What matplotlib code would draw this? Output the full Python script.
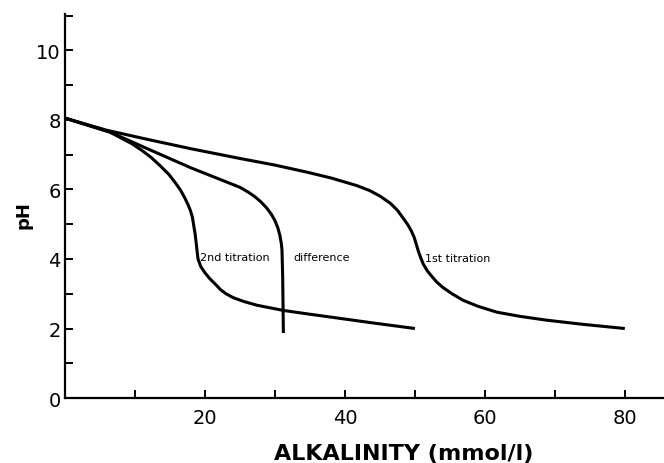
import numpy as np
import matplotlib
matplotlib.use('Agg')
import matplotlib.pyplot as plt

# values
first_x = [0, 6, 12, 18, 25, 30, 34.5, 38, 41.7, 43.5, 45, 46.5, 47.5, 48.3, 49.0, 49.5, 49.9,
           50.2, 50.5, 50.8, 51.2, 51.8, 52.5, 53.1, 54.0, 55.3, 56.9, 59, 61.7, 65, 68.8, 74, 80]
first_ph = [8.05, 7.7, 7.43, 7.17, 6.89, 6.7, 6.5, 6.33, 6.11, 5.97, 5.81, 5.6, 5.4, 5.18, 4.98, 4.8, 4.62,
            4.42, 4.22, 4.05, 3.85, 3.65, 3.48, 3.34, 3.18, 3.0, 2.81, 2.64, 2.47, 2.35, 2.24, 2.12, 2.0]

diff_x = [0, 6.4, 12, 18, 22, 25, 26.2, 27.2, 28.0, 28.8, 29.5, 30.0, 30.4, 30.7, 30.9, 31.0, 31.1, 31.2]
diff_ph = [8.05, 7.65, 7.15, 6.62, 6.3, 6.06, 5.92, 5.78, 5.64, 5.47, 5.28, 5.1, 4.9, 4.68, 4.45, 4.27, 3.5, 1.87]

second_x = [0, 6.4, 8.0, 9.5, 11.0, 12.3, 13.6, 14.8, 15.8, 16.5, 17.1, 17.6, 17.9, 18.2, 18.4, 18.6,
            18.8, 19.0, 19.4, 20.0, 20.7, 21.5, 22.2, 23.0, 24.0, 25.5, 27.4, 31.2, 35, 37.9, 44, 50]
second_ph = [8.05, 7.65, 7.48, 7.32, 7.12, 6.92, 6.68, 6.44, 6.18, 5.98, 5.76, 5.55, 5.4, 5.2, 4.95, 4.7,
             4.35, 4.0, 3.78, 3.6, 3.43, 3.27, 3.12, 3.0, 2.89, 2.78, 2.67, 2.52, 2.41, 2.33, 2.16, 2.0]

curve_labels = ['2nd titration', 'difference', '1st titration']
label_x = [19.3, 32.6, 51.4]
label_y = [4.05, 4.05, 4.03]

x_major = [20, 40, 60, 80]
x_minor = [10, 30, 50, 70]
y_major = [0, 2, 4, 6, 8, 10]
y_minor = [1, 3, 5, 7, 9, 11]

fig = plt.figure(figsize=(6.64, 4.64), dpi=100)
ax = fig.add_axes([0.098, 0.140, 0.902, 0.828])

for xs, ys in [(first_x, first_ph), (diff_x, diff_ph), (second_x, second_ph)]:
    ax.plot(xs, ys, color='black', lw=2.2, solid_capstyle='butt', solid_joinstyle='round')

for txt, tx, ty in zip(curve_labels, label_x, label_y):
    ax.text(tx, ty, txt, fontsize=8, va='center', ha='left')

ax.set_xlim(0, 85.6)
ax.set_ylim(0, 11.05)

ax.spines['top'].set_visible(False)
ax.spines['right'].set_visible(False)
ax.spines['left'].set_linewidth(1.6)
ax.spines['bottom'].set_linewidth(1.6)

ax.set_xticks(x_major)
ax.set_xticks(x_minor, minor=True)
ax.set_yticks(y_major)
ax.set_yticks(y_minor, minor=True)
ax.tick_params(which='both', direction='in', width=1.4, length=6, labelsize=14)
ax.tick_params(axis='x', pad=7)
ax.tick_params(axis='y', pad=3)

ax.set_xlabel('ALKALINITY (mmol/l)', fontsize=16, fontweight='bold')
ax.xaxis.set_label_coords(0.566, -0.118)
ax.set_ylabel('pH', fontsize=13, fontweight='bold')
ax.yaxis.set_label_coords(-0.055, 0.48)

fig.savefig('out.png', dpi=100)
